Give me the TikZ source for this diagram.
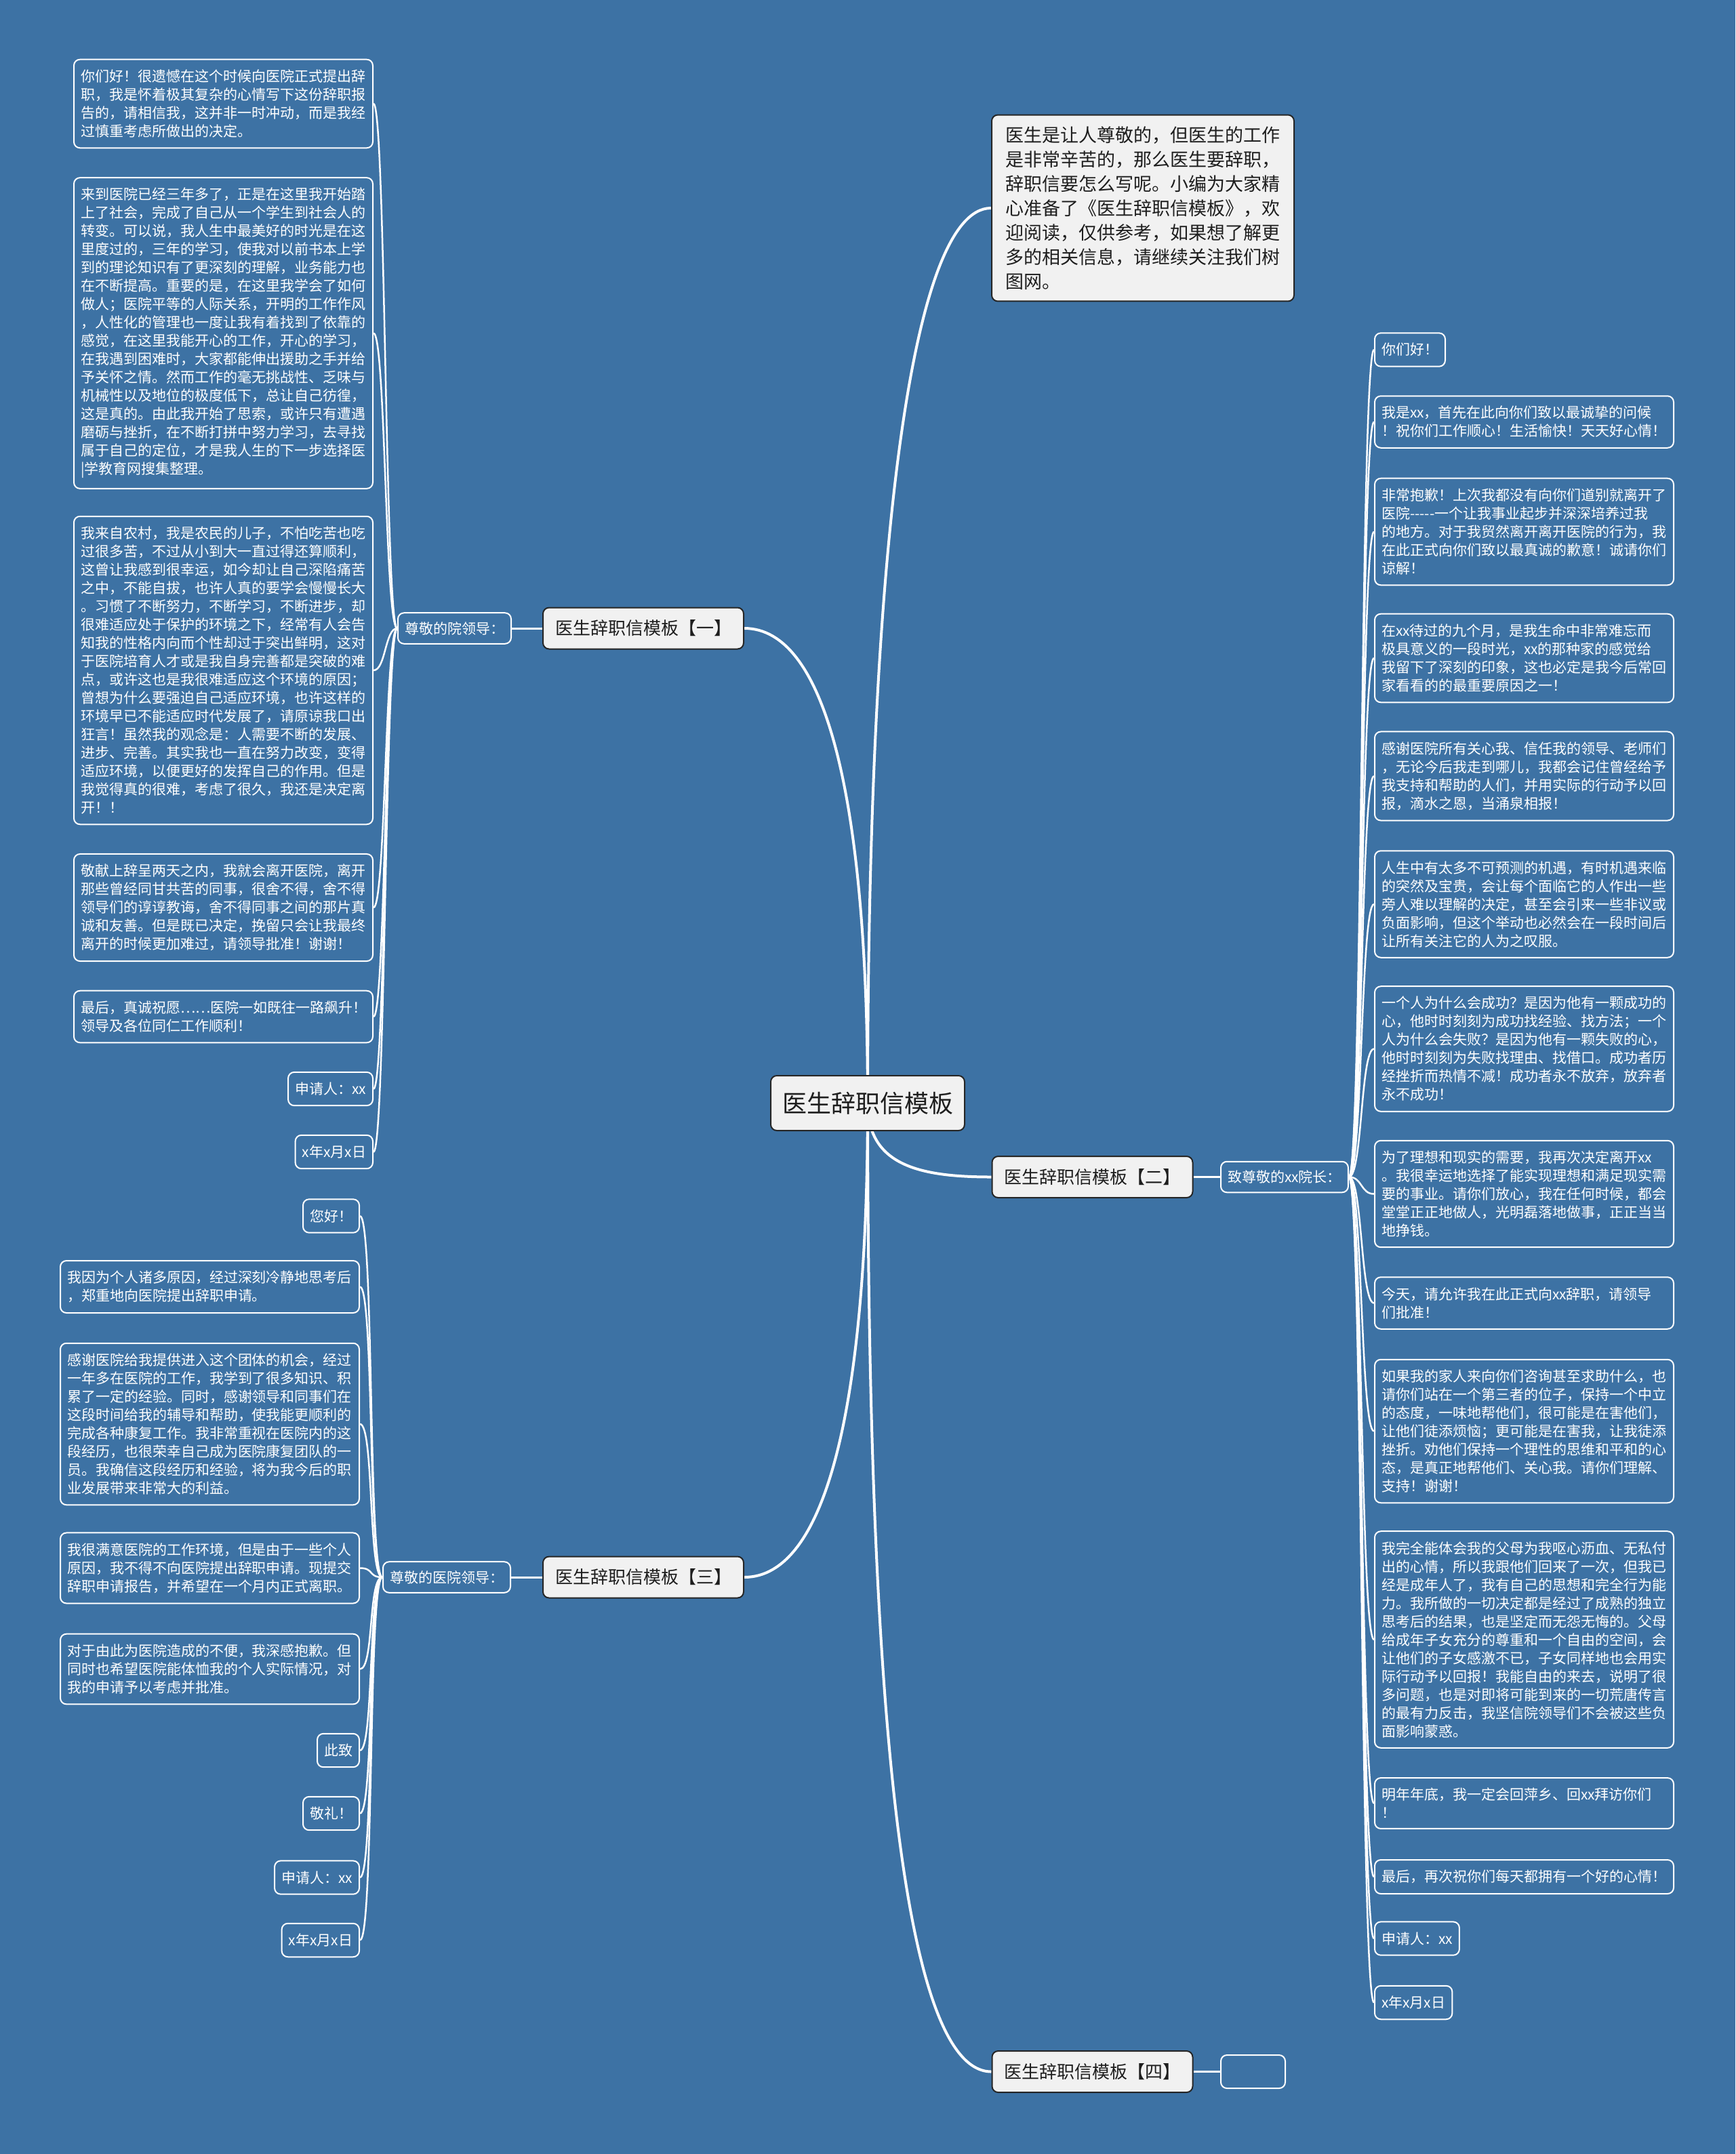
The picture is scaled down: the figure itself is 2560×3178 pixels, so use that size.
\documentclass[tikz,border=0pt]{standalone}
\usepackage{fontspec}
\setmainfont{Noto Sans CJK SC}
\usetikzlibrary{calc}
\definecolor{bgblue}{RGB}{61,114,164}
\definecolor{boxgray}{RGB}{241,241,241}
\definecolor{darkline}{RGB}{38,38,38}
\definecolor{darktext}{RGB}{30,30,30}
\pgfdeclarelayer{back}
\pgfdeclarelayer{links}
\pgfsetlayers{back,links,main}
\tikzset{
  leafbox/.style={draw=white, line width=2pt, rounded corners=9pt, fill=bgblue, text=white,
    font=\fontsize{21}{27}\selectfont, inner xsep=10pt, inner ysep=15pt, align=left},
  widebox/.style={leafbox, text width=421pt},
  sublabel/.style={leafbox, inner ysep=13pt},
  branchbox/.style={draw=darkline, line width=2pt, rounded corners=9pt, fill=boxgray, text=darktext,
    font=\fontsize{26}{30}\selectfont, minimum width=296pt, minimum height=61pt, inner sep=0pt},
  centerbox/.style={draw=darkline, line width=2pt, rounded corners=9pt, fill=boxgray, text=darktext,
    font=\fontsize{36}{40}\selectfont, minimum width=286pt, minimum height=81pt, inner sep=0pt},
  introbox/.style={draw=darkline, line width=2pt, rounded corners=9pt, fill=boxgray, text=darktext,
    font=\fontsize{27}{36}\selectfont, text width=406pt, inner xsep=20pt, inner ysep=17pt, align=left},
  emptybox/.style={draw=white, line width=2pt, rounded corners=9pt, minimum width=95pt, minimum height=49pt},
  mainlink/.style={draw=white, line width=4pt},
  sublink/.style={draw=white, line width=3pt},
  leaflink/.style={draw=white, line width=2.5pt}
}
\begin{document}
\begin{tikzpicture}[x=1pt,y=-1pt]
\begin{pgfonlayer}{back}
\fill[bgblue] (0,0) rectangle (2560,3178);
\end{pgfonlayer}
\useasboundingbox (0,0) rectangle (2560,3178);

% center and intro
\node[centerbox] (ctr) at (1280,1627.5) {医生辞职信模板};
\node[introbox] (intro) at (1686,307) {医生是让人尊敬的，但医生的工作\\是非常辛苦的，那么医生要辞职，\\辞职信要怎么写呢。小编为大家精\\心准备了《医生辞职信模板》，欢\\迎阅读，仅供参考，如果想了解更\\多的相关信息，请继续关注我们树\\图网。};

% branches
\node[branchbox] (b1) at (949,927) {医生辞职信模板【一】};
\node[branchbox] (b2) at (1611.5,1736.5) {医生辞职信模板【二】};
\node[branchbox] (b3) at (949,2327) {医生辞职信模板【三】};
\node[branchbox] (b4) at (1611.5,3056.5) {医生辞职信模板【四】};

% sub labels
\node[sublabel, anchor=east] (s1) at (755,927) {尊敬的院领导：};
\node[sublabel, anchor=west] (s2) at (1800,1736.5) {致尊敬的xx院长：};
\node[sublabel, anchor=east] (s3) at (754,2327) {尊敬的医院领导：};
\node[emptybox, anchor=west] (e4) at (1800,3056.5) {};

% left column (branch one)
\node[widebox, anchor=east] (L1) at (551,153) {你们好！很遗憾在这个时候向医院正式提出辞\\职，我是怀着极其复杂的心情写下这份辞职报\\告的，请相信我，这并非一时冲动，而是我经\\过慎重考虑所做出的决定。};
\node[widebox, anchor=east] (L2) at (551,491.5) {来到医院已经三年多了，正是在这里我开始踏\\上了社会，完成了自己从一个学生到社会人的\\转变。可以说，我人生中最美好的时光是在这\\里度过的，三年的学习，使我对以前书本上学\\到的理论知识有了更深刻的理解，业务能力也\\在不断提高。重要的是，在这里我学会了如何\\做人；医院平等的人际关系，开明的工作作风\\，人性化的管理也一度让我有着找到了依靠的\\感觉，在这里我能开心的工作，开心的学习，\\在我遇到困难时，大家都能伸出援助之手并给\\予关怀之情。然而工作的毫无挑战性、乏味与\\机械性以及地位的极度低下，总让自己彷徨，\\这是真的。由此我开始了思索，或许只有遭遇\\磨砺与挫折，在不断打拼中努力学习，去寻找\\属于自己的定位，才是我人生的下一步选择医\\|学教育网搜集整理。};
\node[widebox, anchor=east] (L3) at (551,989) {我来自农村，我是农民的儿子，不怕吃苦也吃\\过很多苦，不过从小到大一直过得还算顺利，\\这曾让我感到很幸运，如今却让自己深陷痛苦\\之中，不能自拔，也许人真的要学会慢慢长大\\。习惯了不断努力，不断学习，不断进步，却\\很难适应处于保护的环境之下，经常有人会告\\知我的性格内向而个性却过于突出鲜明，这对\\于医院培育人才或是我自身完善都是突破的难\\点，或许这也是我很难适应这个环境的原因；\\曾想为什么要强迫自己适应环境，也许这样的\\环境早已不能适应时代发展了，请原谅我口出\\狂言！虽然我的观念是：人需要不断的发展、\\进步、完善。其实我也一直在努力改变，变得\\适应环境，以便更好的发挥自己的作用。但是\\我觉得真的很难，考虑了很久，我还是决定离\\开！！};
\node[widebox, anchor=east] (L4) at (551,1339) {敬献上辞呈两天之内，我就会离开医院，离开\\那些曾经同甘共苦的同事，很舍不得，舍不得\\领导们的谆谆教诲，舍不得同事之间的那片真\\诚和友善。但是既已决定，挽留只会让我最终\\离开的时候更加难过，请领导批准！谢谢！};
\node[widebox, anchor=east] (L5) at (551,1500) {最后，真诚祝愿……医院一如既往一路飙升！\\领导及各位同仁工作顺利！};
\node[leafbox, anchor=east] (L6) at (551,1606.5) {申请人：xx};
\node[leafbox, anchor=east] (L7) at (551,1699.5) {x年x月x日};

% right column (branch two)
\node[leafbox, anchor=west] (R1) at (2027,516) {你们好！};
\node[widebox, anchor=west] (R2) at (2027,622.5) {我是xx，首先在此向你们致以最诚挚的问候\\！祝你们工作顺心！生活愉快！天天好心情！};
\node[widebox, anchor=west] (R3) at (2027,784.5) {非常抱歉！上次我都没有向你们道别就离开了\\医院-{}-{}-{}-{}-一个让我事业起步并深深培养过我\\的地方。对于我贸然离开离开医院的行为，我\\在此正式向你们致以最真诚的歉意！诚请你们\\谅解！};
\node[widebox, anchor=west] (R4) at (2027,971) {在xx待过的九个月，是我生命中非常难忘而\\极具意义的一段时光，xx的那种家的感觉给\\我留下了深刻的印象，这也必定是我今后常回\\家看看的的最重要原因之一！};
\node[widebox, anchor=west] (R5) at (2027,1145) {感谢医院所有关心我、信任我的领导、老师们\\，无论今后我走到哪儿，我都会记住曾经给予\\我支持和帮助的人们，并用实际的行动予以回\\报，滴水之恩，当涌泉相报！};
\node[widebox, anchor=west] (R6) at (2027,1334) {人生中有太多不可预测的机遇，有时机遇来临\\的突然及宝贵，会让每个面临它的人作出一些\\旁人难以理解的决定，甚至会引来一些非议或\\负面影响，但这个举动也必然会在一段时间后\\让所有关注它的人为之叹服。};
\node[widebox, anchor=west] (R7) at (2027,1547.5) {一个人为什么会成功？是因为他有一颗成功的\\心，他时时刻刻为成功找经验、找方法；一个\\人为什么会失败？是因为他有一颗失败的心，\\他时时刻刻为失败找理由、找借口。成功者历\\经挫折而热情不减！成功者永不放弃，放弃者\\永不成功！};
\node[widebox, anchor=west] (R8) at (2027,1761.5) {为了理想和现实的需要，我再次决定离开xx\\。我很幸运地选择了能实现理想和满足现实需\\要的事业。请你们放心，我在任何时候，都会\\堂堂正正地做人，光明磊落地做事，正正当当\\地挣钱。};
\node[widebox, anchor=west] (R9) at (2027,1922.5) {今天，请允许我在此正式向xx辞职，请领导\\们批准！};
\node[widebox, anchor=west] (R10) at (2027,2111.5) {如果我的家人来向你们咨询甚至求助什么，也\\请你们站在一个第三者的位子，保持一个中立\\的态度，一味地帮他们，很可能是在害他们，\\让他们徒添烦恼；更可能是在害我，让我徒添\\挫折。劝他们保持一个理性的思维和平和的心\\态，是真正地帮他们、关心我。请你们理解、\\支持！谢谢！};
\node[widebox, anchor=west] (R11) at (2027,2419) {我完全能体会我的父母为我呕心沥血、无私付\\出的心情，所以我跟他们回来了一次，但我已\\经是成年人了，我有自己的思想和完全行为能\\力。我所做的一切决定都是经过了成熟的独立\\思考后的结果，也是坚定而无怨无悔的。父母\\给成年子女充分的尊重和一个自由的空间，会\\让他们的子女感激不已，子女同样地也会用实\\际行动予以回报！我能自由的来去，说明了很\\多问题，也是对即将可能到来的一切荒唐传言\\的最有力反击，我坚信院领导们不会被这些负\\面影响蒙惑。};
\node[widebox, anchor=west] (R12) at (2027,2660.5) {明年年底，我一定会回萍乡、回xx拜访你们\\！};
\node[widebox, anchor=west] (R13) at (2027,2769) {最后，再次祝你们每天都拥有一个好的心情！};
\node[leafbox, anchor=west] (R14) at (2027,2860) {申请人：xx};
\node[leafbox, anchor=west] (R15) at (2027,2954.5) {x年x月x日};

% middle column (branch three)
\node[leafbox, anchor=east] (M1) at (531,1794) {您好！};
\node[widebox, anchor=east] (M2) at (531,1898.5) {我因为个人诸多原因，经过深刻冷静地思考后\\，郑重地向医院提出辞职申请。};
\node[widebox, anchor=east] (M3) at (531,2101) {感谢医院给我提供进入这个团体的机会，经过\\一年多在医院的工作，我学到了很多知识、积\\累了一定的经验。同时，感谢领导和同事们在\\这段时间给我的辅导和帮助，使我能更顺利的\\完成各种康复工作。我非常重视在医院内的这\\段经历，也很荣幸自己成为医院康复团队的一\\员。我确信这段经历和经验，将为我今后的职\\业发展带来非常大的利益。};
\node[widebox, anchor=east] (M4) at (531,2313.5) {我很满意医院的工作环境，但是由于一些个人\\原因，我不得不向医院提出辞职申请。现提交\\辞职申请报告，并希望在一个月内正式离职。};
\node[widebox, anchor=east] (M5) at (531,2462.5) {对于由此为医院造成的不便，我深感抱歉。但\\同时也希望医院能体恤我的个人实际情况，对\\我的申请予以考虑并批准。};
\node[leafbox, anchor=east] (M6) at (531,2582.5) {此致};
\node[leafbox, anchor=east] (M7) at (531,2675.5) {敬礼！};
\node[leafbox, anchor=east] (M8) at (531,2770) {申请人：xx};
\node[leafbox, anchor=east] (M9) at (531,2862.5) {x年x月x日};

\begin{pgfonlayer}{links}
% center to branches
\draw[mainlink] (intro.west) .. controls +(-120,0) and +(0,-800) .. (ctr.center);
\draw[mainlink] (b1.east) .. controls +(120,0) and +(0,-450) .. (ctr.center);
\draw[mainlink] (ctr.center) .. controls +(0,90) and +(-110,0) .. (b2.west);
\draw[mainlink] (b3.east) .. controls +(120,0) and +(0,450) .. (ctr.center);
\draw[mainlink] (b4.west) .. controls +(-130,0) and +(0,900) .. (ctr.center);
% branches to sub labels
\draw[sublink] (b1.west) -- (s1.east);
\draw[sublink] (b2.east) -- (s2.west);
\draw[sublink] (b3.west) -- (s3.east);
\draw[sublink] (b4.east) -- (e4.west);
% leaves
\foreach \n in {L1,L2,L3,L4,L5,L6,L7}
  \draw[leaflink] (s1.west) .. controls +(-18,0) and +(18,0) .. (\n.east);
\foreach \n in {R1,R2,R3,R4,R5,R6,R7,R8,R9,R10,R11,R12,R13,R14,R15}
  \draw[leaflink] (s2.east) .. controls +(20,0) and +(-20,0) .. (\n.west);
\foreach \n in {M1,M2,M3,M4,M5,M6,M7,M8,M9}
  \draw[leaflink] (s3.west) .. controls +(-21,0) and +(21,0) .. (\n.east);
\end{pgfonlayer}
\end{tikzpicture}
\end{document}
